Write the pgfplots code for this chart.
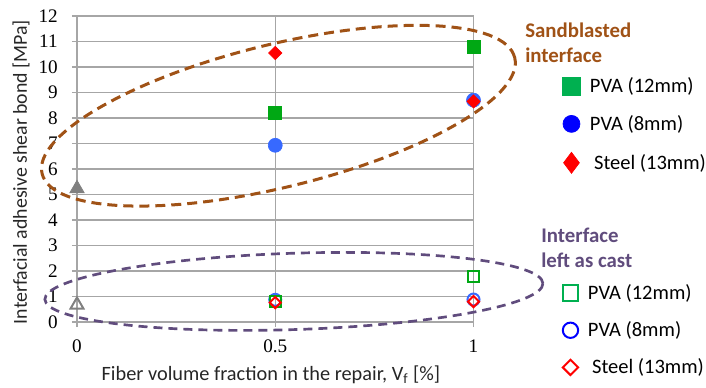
\documentclass[border=0pt]{standalone}
\usepackage{fontspec}
\setmainfont{Carlito}
\newfontfamily\tickfont{Liberation Serif}
\usepackage{pgfplots}
\pgfplotsset{compat=1.18}
\definecolor{brownc}{RGB}{160,82,22}
\definecolor{purplec}{RGB}{96,76,125}
\definecolor{gridc}{RGB}{166,166,166}
\definecolor{axisc}{RGB}{140,140,140}
\definecolor{gplot}{RGB}{0,168,20}
\definecolor{gleg}{RGB}{0,176,80}
\definecolor{bplot}{RGB}{55,105,255}
\definecolor{bleg}{RGB}{0,0,255}
\definecolor{triC}{RGB}{128,128,128}
\pgfplotsset{
  base/.style={
    at={(46.2pt,-193.2pt)}, anchor=south west,
    scale only axis, width=237.9pt, height=183.6pt,
    xmin=0, xmax=1, ymin=0, ymax=12,
    clip=false,
  },
  leg/.style={
    legend cell align=left,
    legend style={draw=none, fill=none, inner sep=0pt,
      font=\fontsize{12.3}{14}\selectfont,
      nodes={inner sep=0pt}, row sep=11.8pt, column sep=5.8pt},
  },
}
\begin{document}
\begin{tikzpicture}
\useasboundingbox (0,0) rectangle (423.6pt,-232.8pt);
\begin{axis}[base, leg,
  xtick={0,0.5,1}, ytick={0,1,...,12},
  xticklabels={0,0.5,1},
  grid=major,
  major grid style={gridc, line width=0.8pt},
  axis line style={gridc, line width=0.8pt},
  tick style={gridc, line width=0.8pt},
  tick align=outside, major tick length=3pt,
  xtick pos=left, ytick pos=left,
  ticklabel style={font=\tickfont\fontsize{11.5}{13}\selectfont},
  /pgf/number format/assume math mode=true,
  yticklabel style={inner sep=0pt, anchor=east},
  yticklabel shift=8.4pt,
  xticklabel style={inner sep=0pt, anchor=north},
  xticklabel shift=7.5pt,
  xlabel={Fiber volume fraction in the repair, V\textsubscript{f} [\%]},
  ylabel={Interfacial adhesive shear bond [MPa]},
  xlabel style={font=\fontsize{12.2}{14}\selectfont, text=black!85,
    at={(axis description cs:0.489,-0.173)}, anchor=center},
  ylabel style={font=\fontsize{11.9}{14}\selectfont, text=black!85,
    at={(axis description cs:-0.141,0.49)}, anchor=center},
  legend style={at={(axis description cs:1.224,0.642)}, anchor=west},
]
\draw[brownc, line width=1.8pt, dash pattern=on 6pt off 3.6pt,
  rotate around={13.8:(axis cs:0.508,8.09)}]
  (axis cs:0.508,8.09) ellipse [x radius=146pt, y radius=42.8pt];
\draw[purplec, line width=1.6pt, dash pattern=on 5.4pt off 3.6pt,
  rotate around={1.85:(axis cs:0.547,1.20)}]
  (axis cs:0.547,1.20) ellipse [x radius=149.5pt, y radius=22.9pt];
% sandblasted interface
\addplot[only marks, mark=*, mark size=4.2pt, color=bplot, forget plot]
  coordinates {(0.5,6.93) (1,8.7)};
\addplot[only marks, mark=square*, mark size=3.9pt, color=gplot, forget plot]
  coordinates {(0.5,8.2) (1,10.8)};
\addplot[only marks, mark=square*, mark size=2.8pt, mark options={rotate=45}, color=red, forget plot]
  coordinates {(0.5,10.55) (1,8.65)};
\addplot[only marks, mark=triangle*, mark size=5pt, color=triC, forget plot]
  coordinates {(0,5.23)};
\addlegendimage{only marks, mark=square*, mark size=5.3pt, color=gleg}
\addlegendentry{PVA (12mm)}
\addlegendimage{only marks, mark=*, mark size=5.1pt, color=bleg}
\addlegendentry{PVA (8mm)}
\addlegendimage{only marks, mark=diamond*, mark size=6.3pt, color=red}
\addlegendentry{\hspace{2.5pt}Steel (13mm)}
\end{axis}
\begin{axis}[base, leg, hide axis,
  legend style={at={(axis description cs:1.224,-0.027)}, anchor=west},
]
% interface left as cast
\addplot[only marks, mark=o, mark size=3.6pt, color=bplot, mark options={line width=1.2pt}, forget plot]
  coordinates {(0.5,0.87) (1,0.88)};
\addplot[only marks, mark=square, mark size=3.3pt, color=gplot, mark options={line width=1.2pt}, forget plot]
  coordinates {(0.5,0.8) (1,1.78)};
\addplot[only marks, mark=square, mark size=2.35pt, color=red, mark options={rotate=45, line width=1.2pt}, forget plot]
  coordinates {(0.5,0.76) (1,0.8)};
\addplot[only marks, mark=triangle, mark size=4.5pt, color=triC, mark options={line width=1.2pt}, forget plot]
  coordinates {(0,0.67)};
\addlegendimage{only marks, mark=square, mark size=4.7pt, color=gleg, mark options={line width=1.2pt}}
\addlegendentry{PVA (12mm)}
\addlegendimage{only marks, mark=o, mark size=4.6pt, color=bleg, mark options={line width=1.2pt}}
\addlegendentry{PVA (8mm)}
\addlegendimage{only marks, mark=square, mark size=3.25pt, color=red, mark options={rotate=45, line width=1.2pt}}
\addlegendentry{\hspace{2.5pt}Steel (13mm)}
\end{axis}
\node[anchor=west, inner sep=0pt, text=brownc, font=\bfseries\fontsize{12.5}{14}\selectfont] at (315pt,-18.4pt) {Sandblasted};
\node[anchor=west, inner sep=0pt, text=brownc, font=\bfseries\fontsize{12.5}{14}\selectfont] at (315pt,-33pt) {interface};
\node[anchor=west, inner sep=0pt, text=purplec, font=\bfseries\fontsize{12.5}{14}\selectfont] at (324.6pt,-141pt) {Interface};
\node[anchor=west, inner sep=0pt, text=purplec, font=\bfseries\fontsize{12.5}{14}\selectfont] at (324.6pt,-156pt) {left as cast};
\end{tikzpicture}
\end{document}
